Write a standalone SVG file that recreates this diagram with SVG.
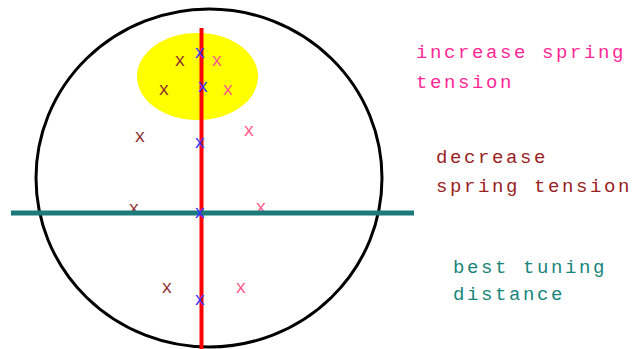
<svg xmlns="http://www.w3.org/2000/svg" width="634" height="349" viewBox="0 0 634 349">
<style>
.lbl{font-family:"Liberation Mono","DejaVu Sans Mono",monospace;font-size:19px;letter-spacing:2.6px}
.mk{font-family:"Liberation Mono","DejaVu Sans Mono",monospace;font-size:18px;text-anchor:middle}
.br{fill:#8e2f2f}
.pk{fill:#ff5a8c}
.bl{fill:#3535ff}
</style>
<rect width="634" height="349" fill="#ffffff"/>
<g id="circle"><ellipse cx="209" cy="178" rx="173" ry="169" fill="none" stroke="#000000" stroke-width="3"/></g>
<g id="zone"><ellipse cx="197.5" cy="76.5" rx="60.5" ry="43.5" fill="#ffff00"/></g>
<g id="connectors">
<line x1="201.5" y1="28" x2="201.5" y2="349" stroke="#ff0000" stroke-width="4"/>
</g>
<g id="marks-brown">
<text class="mk br" x="180" y="66">x</text>
<text class="mk br" x="164" y="95">x</text>
<text class="mk br" x="140" y="142">x</text>
<text class="mk br" x="134" y="214">x</text>
<text class="mk br" x="167" y="293">x</text>
</g>
<g id="marks-pink">
<text class="mk pk" x="217" y="66">x</text>
<text class="mk pk" x="228" y="95">x</text>
<text class="mk pk" x="249" y="136">x</text>
<text class="mk pk" x="261" y="213">x</text>
<text class="mk pk" x="241" y="293">x</text>
</g>
<g id="baseline"><line x1="11" y1="213" x2="414" y2="213" stroke="#1b7b7b" stroke-width="5"/></g>
<g id="marks-blue">
<text class="mk bl" x="200" y="58">x</text>
<text class="mk bl" x="203" y="92">x</text>
<text class="mk bl" x="200" y="148">x</text>
<text class="mk bl" x="200" y="218">x</text>
<text class="mk bl" x="200" y="305">x</text>
</g>
<g id="label-increase">
<text class="lbl" x="416" y="58" fill="#ff2896">increase spring</text>
<text class="lbl" x="416" y="88" fill="#ff2896">tension</text>
</g>
<g id="label-decrease">
<text class="lbl" x="436" y="163" fill="#992222">decrease</text>
<text class="lbl" x="436" y="192" fill="#992222">spring tension</text>
</g>
<g id="label-best">
<text class="lbl" x="453" y="273" fill="#18857a">best tuning</text>
<text class="lbl" x="453" y="300" fill="#18857a">distance</text>
</g>
</svg>
